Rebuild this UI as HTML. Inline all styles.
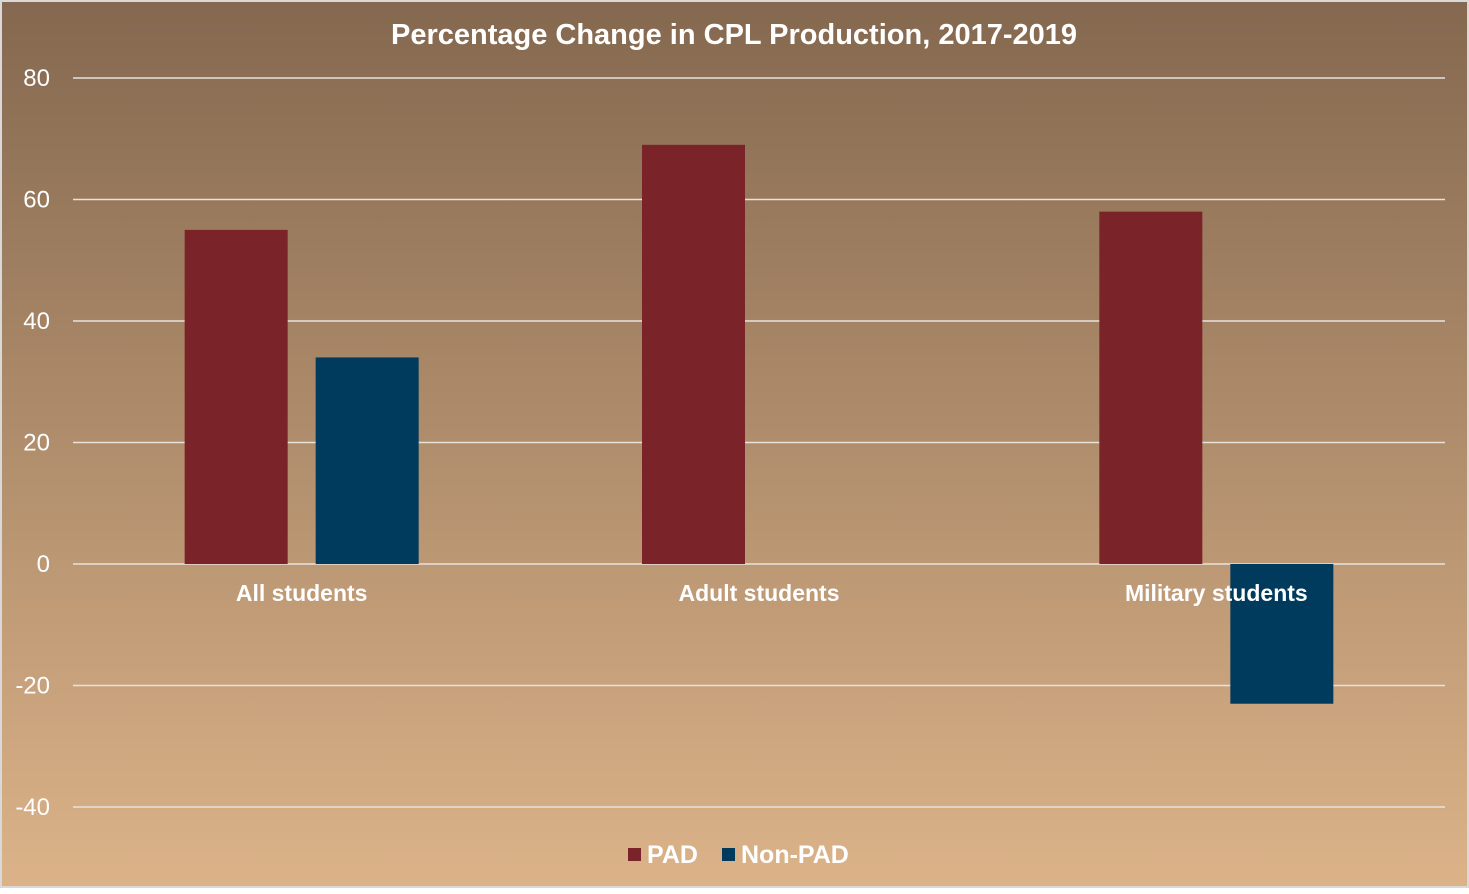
<!DOCTYPE html>
<html><head><meta charset="utf-8"><style>
html,body{margin:0;padding:0;}
body{width:1469px;height:889px;overflow:hidden;font-family:"Liberation Sans",Arial,sans-serif;}
</style></head><body>
<svg id="chart" width="1469" height="889" xmlns="http://www.w3.org/2000/svg">
<defs><linearGradient id="bg" x1="0" y1="0" x2="0" y2="1">
<stop offset="0" stop-color="#84684f"/><stop offset="1" stop-color="#dcb389"/></linearGradient></defs>
<rect x="1" y="1" width="1467" height="886" fill="url(#bg)" stroke="#d9d9d9" stroke-width="2"/>
<text x="734" y="44" text-anchor="middle" fill="#fff" font-weight="bold" font-size="29">Percentage Change in CPL Production, 2017-2019</text>
<g id="grid"></g><g id="bars"></g><g id="labels"></g>
<g>
<rect x="628" y="848" width="13" height="13" fill="#7a2328"/>
<text x="647" y="863" fill="#fff" font-weight="bold" font-size="25">PAD</text>
<rect x="722" y="848" width="13" height="13" fill="#003a5c"/>
<text x="741" y="863" fill="#fff" font-weight="bold" font-size="25">Non-PAD</text>
</g>
</svg>
<script>
const categories = ["All students", "Adult students", "Military students"];
const padValues = [55, 69, 58];
const nonPadValues = [34, 0, -23];
const yTicks = [80, 60, 40, 20, 0, -20, -40];
const NS = "http://www.w3.org/2000/svg";
const plotL = 73, plotR = 1445, yMax = 80, yMin = -40, yTop = 78, yBot = 807;
function y(v){ return yTop + (yMax - v) * (yBot - yTop) / (yMax - yMin); }
const catW = (plotR - plotL) / categories.length;
function cx(i){ return plotL + catW * (i + 0.5); }
function mk(tag, attrs, parent){ const e = document.createElementNS(NS, tag); for (const k in attrs) e.setAttribute(k, attrs[k]); parent.appendChild(e); return e; }
const grid = document.getElementById('grid'), bars = document.getElementById('bars'), labels = document.getElementById('labels');
yTicks.forEach(t => {
  const l = mk('line', {x1: plotL, x2: plotR, y1: y(t), y2: y(t), stroke: '#e8e2dc', 'stroke-width': 1.5}, grid);
  
  
  const tx = mk('text', {x: 50, y: y(t) + 8, 'text-anchor': 'end', fill: '#fff', 'font-size': 24}, grid);
  tx.textContent = t;
  
  
});
const bw = 103, gap = 28;
categories.forEach((c, i) => {
  const series = [[padValues[i], '#7a2328', 'pad'], [nonPadValues[i], '#003a5c', 'non-pad']];
  series.forEach((s, j) => {
    const v = s[0];
    const x = j === 0 ? cx(i) - gap / 2 - bw : cx(i) + gap / 2;
    const r = mk('rect', {x: x, width: bw, y: Math.min(y(v), y(0)), height: Math.abs(y(v) - y(0)), fill: s[1]}, bars);
    
    
  });
  const t = mk('text', {x: cx(i), y: y(0) + 37, 'text-anchor': 'middle', fill: '#fff', 'font-weight': 'bold', 'font-size': 23}, labels);
  t.textContent = c;
  
  
});
</script>
</body></html>
